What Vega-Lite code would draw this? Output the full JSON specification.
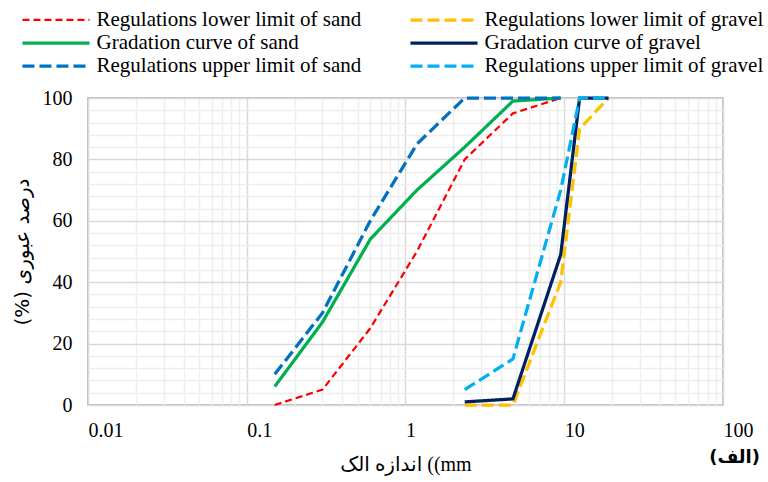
{
  "$schema": "https://vega.github.io/schema/vega-lite/v6.json",
  "width": 635,
  "height": 307,
  "autosize": "none",
  "padding": {"left": 88, "top": 98, "right": 45, "bottom": 77},
  "background": "white",
  "config": {
    "view": {"stroke": "#a6a6a6", "strokeWidth": 1.5},
    "font": "Liberation Serif"
  },
  "title": {
    "text": "(الف)",
    "orient": "bottom",
    "anchor": "end",
    "frame": "group",
    "font": "DejaVu Sans",
    "fontSize": 18,
    "fontWeight": "bold",
    "color": "black",
    "dx": 37,
    "dy": -29
  },
  "data": {
    "values": [
      {"series": "Regulations lower limit of sand", "size": 0.15, "pass": 0},
      {"series": "Regulations lower limit of sand", "size": 0.3, "pass": 5},
      {"series": "Regulations lower limit of sand", "size": 0.6, "pass": 25},
      {"series": "Regulations lower limit of sand", "size": 1.18, "pass": 50},
      {"series": "Regulations lower limit of sand", "size": 2.36, "pass": 80},
      {"series": "Regulations lower limit of sand", "size": 4.75, "pass": 95},
      {"series": "Regulations lower limit of sand", "size": 9.5, "pass": 100},
      {"series": "Regulations lower limit of gravel", "size": 2.36, "pass": 0},
      {"series": "Regulations lower limit of gravel", "size": 4.75, "pass": 0},
      {"series": "Regulations lower limit of gravel", "size": 9.5, "pass": 40},
      {"series": "Regulations lower limit of gravel", "size": 12.5, "pass": 90},
      {"series": "Regulations lower limit of gravel", "size": 19, "pass": 100},
      {"series": "Gradation curve of sand", "size": 0.15, "pass": 6},
      {"series": "Gradation curve of sand", "size": 0.3, "pass": 27},
      {"series": "Gradation curve of sand", "size": 0.6, "pass": 54},
      {"series": "Gradation curve of sand", "size": 1.18, "pass": 70},
      {"series": "Gradation curve of sand", "size": 2.36, "pass": 84},
      {"series": "Gradation curve of sand", "size": 4.75, "pass": 99},
      {"series": "Gradation curve of sand", "size": 9.5, "pass": 100},
      {"series": "Gradation curve of gravel", "size": 2.36, "pass": 1},
      {"series": "Gradation curve of gravel", "size": 4.75, "pass": 2},
      {"series": "Gradation curve of gravel", "size": 9.5, "pass": 49},
      {"series": "Gradation curve of gravel", "size": 12.5, "pass": 100},
      {"series": "Gradation curve of gravel", "size": 19, "pass": 100},
      {"series": "Regulations upper limit of sand", "size": 0.15, "pass": 10},
      {"series": "Regulations upper limit of sand", "size": 0.3, "pass": 30},
      {"series": "Regulations upper limit of sand", "size": 0.6, "pass": 60},
      {"series": "Regulations upper limit of sand", "size": 1.18, "pass": 85},
      {"series": "Regulations upper limit of sand", "size": 2.36, "pass": 100},
      {"series": "Regulations upper limit of sand", "size": 4.75, "pass": 100},
      {"series": "Regulations upper limit of sand", "size": 9.5, "pass": 100},
      {"series": "Regulations upper limit of gravel", "size": 2.36, "pass": 5},
      {"series": "Regulations upper limit of gravel", "size": 4.75, "pass": 15},
      {"series": "Regulations upper limit of gravel", "size": 9.5, "pass": 70},
      {"series": "Regulations upper limit of gravel", "size": 12.5, "pass": 100},
      {"series": "Regulations upper limit of gravel", "size": 19, "pass": 100}
    ]
  },
  "mark": {"type": "line", "clip": false},
  "encoding": {
    "x": {
      "field": "size",
      "type": "quantitative",
      "scale": {"type": "log", "domain": [0.01, 100], "nice": false},
      "axis": {
        "values": [0.01, 0.02, 0.03, 0.04, 0.05, 0.06, 0.07, 0.08, 0.09, 0.1, 0.2, 0.3, 0.4, 0.5, 0.6, 0.7, 0.8, 0.9, 1, 2, 3, 4, 5, 6, 7, 8, 9, 10, 20, 30, 40, 50, 60, 70, 80, 90, 100],
        "labelExpr": "abs(log(datum.value)/LN10 - round(log(datum.value)/LN10)) < 0.001 ? '' + datum.value : ''",
        "labelAlign": "left",
        "labelBaseline": "top",
        "labelFont": "Liberation Serif",
        "labelFontSize": 20,
        "labelColor": "black",
        "labelPadding": 15,
        "labelOverlap": false,
        "labelFlush": false,
        "ticks": false,
        "domain": false,
        "grid": true,
        "gridWidth": 1.5,
        "gridColor": {"condition": {"test": "abs(log(datum.value)/LN10 - round(log(datum.value)/LN10)) < 0.001", "value": "#d9d9d9"}, "value": "#eeeeee"},
        "title": "اندازه الک ((mm",
        "titleFont": "Liberation Serif, DejaVu Sans",
        "titleFontSize": 20,
        "titleFontWeight": "normal",
        "titleColor": "black",
        "titlePadding": 14
      }
    },
    "y": {
      "field": "pass",
      "type": "quantitative",
      "scale": {"domain": [0, 100], "nice": false},
      "axis": {
        "values": [0, 4, 8, 12, 16, 20, 24, 28, 32, 36, 40, 44, 48, 52, 56, 60, 64, 68, 72, 76, 80, 84, 88, 92, 96, 100],
        "labelExpr": "datum.value % 20 === 0 ? '' + datum.value : ''",
        "labelFont": "Liberation Serif",
        "labelFontSize": 20,
        "labelColor": "black",
        "labelPadding": 16,
        "labelOverlap": false,
        "ticks": false,
        "domain": false,
        "grid": true,
        "gridWidth": 1.5,
        "gridColor": {"condition": {"test": "datum.value % 20 === 0", "value": "#d9d9d9"}, "value": "#eeeeee"},
        "title": "(%) درصد عبوری",
        "titleFont": "DejaVu Sans",
        "titleFontSize": 20,
        "titleFontWeight": "normal",
        "titleColor": "black",
        "titlePadding": 10
      }
    },
    "color": {
      "field": "series",
      "type": "nominal",
      "scale": {
        "domain": ["Regulations lower limit of sand", "Gradation curve of sand", "Regulations upper limit of sand", "Regulations lower limit of gravel", "Gradation curve of gravel", "Regulations upper limit of gravel"],
        "range": ["#ff0000", "#00b050", "#0070c0", "#ffc000", "#002060", "#00b0f0"]
      },
      "legend": {
        "orient": "none",
        "legendX": -45,
        "legendY": -91,
        "columns": 2,
        "title": null,
        "symbolType": "M-3,0H3",
        "symbolSize": 500,
        "labelFont": "Liberation Serif",
        "labelFontSize": 21,
        "labelColor": "black",
        "labelLimit": 400,
        "labelOffset": 27.5,
        "columnPadding": 41,
        "rowPadding": -1
      }
    },
    "strokeDash": {
      "field": "series",
      "type": "nominal",
      "scale": {
        "domain": ["Regulations lower limit of sand", "Gradation curve of sand", "Regulations upper limit of sand", "Regulations lower limit of gravel", "Gradation curve of gravel", "Regulations upper limit of gravel"],
        "range": [[7, 4], [1, 0], [12, 5], [12, 5], [1, 0], [12, 5]]
      }
    },
    "strokeWidth": {
      "field": "series",
      "type": "nominal",
      "scale": {
        "type": "ordinal",
        "domain": ["Regulations lower limit of sand", "Gradation curve of sand", "Regulations upper limit of sand", "Regulations lower limit of gravel", "Gradation curve of gravel", "Regulations upper limit of gravel"],
        "range": [2.25, 3.25, 3.25, 3.25, 3.25, 3.25]
      }
    }
  }
}
